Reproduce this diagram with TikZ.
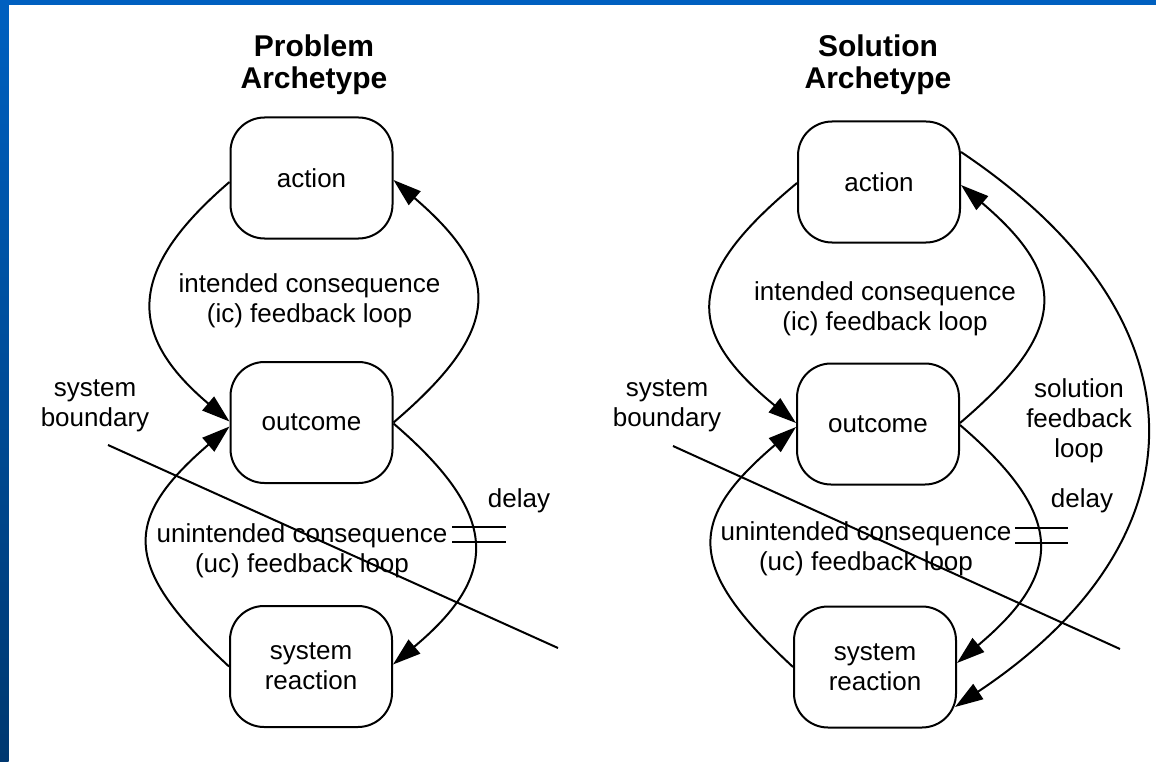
\documentclass[tikz,border=0pt]{standalone}
\usepackage{fontspec}
\setmainfont{Liberation Sans}
\usetikzlibrary{arrows.meta,calc}
\definecolor{slideblue}{RGB}{0,96,192}
\definecolor{slidedark}{RGB}{0,56,112}
\tikzset{
  stage/.style={draw, line width=2pt, rounded corners=34pt, minimum width=162pt,
    minimum height=121pt, inner sep=0pt, align=center, font=\fontsize{26}{30}\selectfont},
  flow/.style={line width=2pt, -{Triangle[length=28pt,width=18pt]}},
  sysline/.style={line width=2pt},
  delaymark/.style={line width=2pt},
  lbl/.style={align=center, inner sep=0pt, font=\fontsize{26}{30}\selectfont},
  ttl/.style={align=center, inner sep=0pt, font=\bfseries\fontsize{30}{32}\selectfont},
}
\begin{document}
\begin{tikzpicture}[x=1pt, y=-1pt]
\useasboundingbox (0,0) rectangle (1156,762);
% slide background
\fill[white] (0,0) rectangle (1156,762);
\fill[slideblue] (0,0) rectangle (1156,5);
\shade[top color=slideblue, bottom color=slidedark] (0,0) rectangle (8.5,762);

% ---------- problem archetype ----------
\node[ttl] (Ltitle) at (314,64.4) {Problem\\Archetype};
\node[stage] (Lact) at (311.5,178) {action};
\node[stage] (Lout) at (311.5,422.5) {outcome};
\node[stage] (Lsys) at (311,666.5) {system\\reaction};

\node[lbl] (Lic) at (309.5,300.5) {intended consequence\\(ic) feedback loop};
\node[lbl] (Luc) at (302,550.5) {unintended consequence\\(uc) feedback loop};
\node[lbl] (Lbnd) at (95,406) {system\\boundary};
\node[lbl, anchor=base] (Ldelay) at (519,507) {delay};

\draw[flow] ($(Lact.west)+(0,4)$) .. controls (127,270) and (126,334) .. ($(Lout.west)+(0,-1)$);
\draw[flow] (Lout.east) .. controls (503,329) and (503,274) .. ($(Lact.east)+(0,2)$);
\draw[flow] ($(Lout.east)+(0,1)$) .. controls (500,515) and (500,575) .. ($(Lsys.east)+(0,-2)$);
\draw[flow] (Lsys.west) .. controls (122,567) and (121,520) .. ($(Lout.west)+(0,4)$);

\coordinate (Ld1) at (452,527);
\coordinate (Ld2) at (506,527);
\coordinate (Ld3) at (452,542);
\coordinate (Ld4) at (506,542);
\draw[delaymark] (Ld1) -- (Ld2);
\draw[delaymark] (Ld3) -- (Ld4);

\coordinate (Lb1) at (108,445);
\coordinate (Lb2) at (558,648);
\draw[sysline] (Lb1) -- (Lb2);

% ---------- solution archetype ----------
\node[ttl] (Rtitle) at (878,64.4) {Solution\\Archetype};
\node[stage] (Ract) at (879,182) {action};
\node[stage] (Rout) at (878,424) {outcome};
\node[stage] (Rsys) at (875,667) {system\\reaction};

\node[lbl] (Ric) at (885,308.5) {intended consequence\\(ic) feedback loop};
\node[lbl] (Ruc) at (866,548.5) {unintended consequence\\(uc) feedback loop};
\node[lbl] (Rbnd) at (667,406) {system\\boundary};
\node[lbl] (Rsol) at (1079,421) {solution\\feedback\\loop};
\node[lbl, anchor=base] (Rdelay) at (1082,507) {delay};

\draw[flow] ($(Ract.west)+(0,1)$) .. controls (685,276) and (683,330) .. ($(Rout.west)+(0,-1)$);
\draw[flow] ($(Rout.east)+(0,-1)$) .. controls (1068,331) and (1069,277) .. ($(Ract.east)+(0,3)$);
\draw[flow] ($(Rout.east)+(0,1)$) .. controls (1066,516) and (1064,573) .. ($(Rsys.east)+(0,-4)$);
\draw[flow] (Rsys.west) .. controls (685,567) and (687,520) .. ($(Rout.west)+(0,3)$);
\draw[flow] ($(Ract.east)+(0,-30)$) .. controls (1212,320) and (1206,540) .. ($(Rsys.east)+(-2,40)$);

\coordinate (Rd1) at (1015,528);
\coordinate (Rd2) at (1068,528);
\coordinate (Rd3) at (1015,543);
\coordinate (Rd4) at (1068,543);
\draw[delaymark] (Rd1) -- (Rd2);
\draw[delaymark] (Rd3) -- (Rd4);

\coordinate (Rb1) at (673,446);
\coordinate (Rb2) at (1120,649);
\draw[sysline] (Rb1) -- (Rb2);
\end{tikzpicture}
\end{document}
